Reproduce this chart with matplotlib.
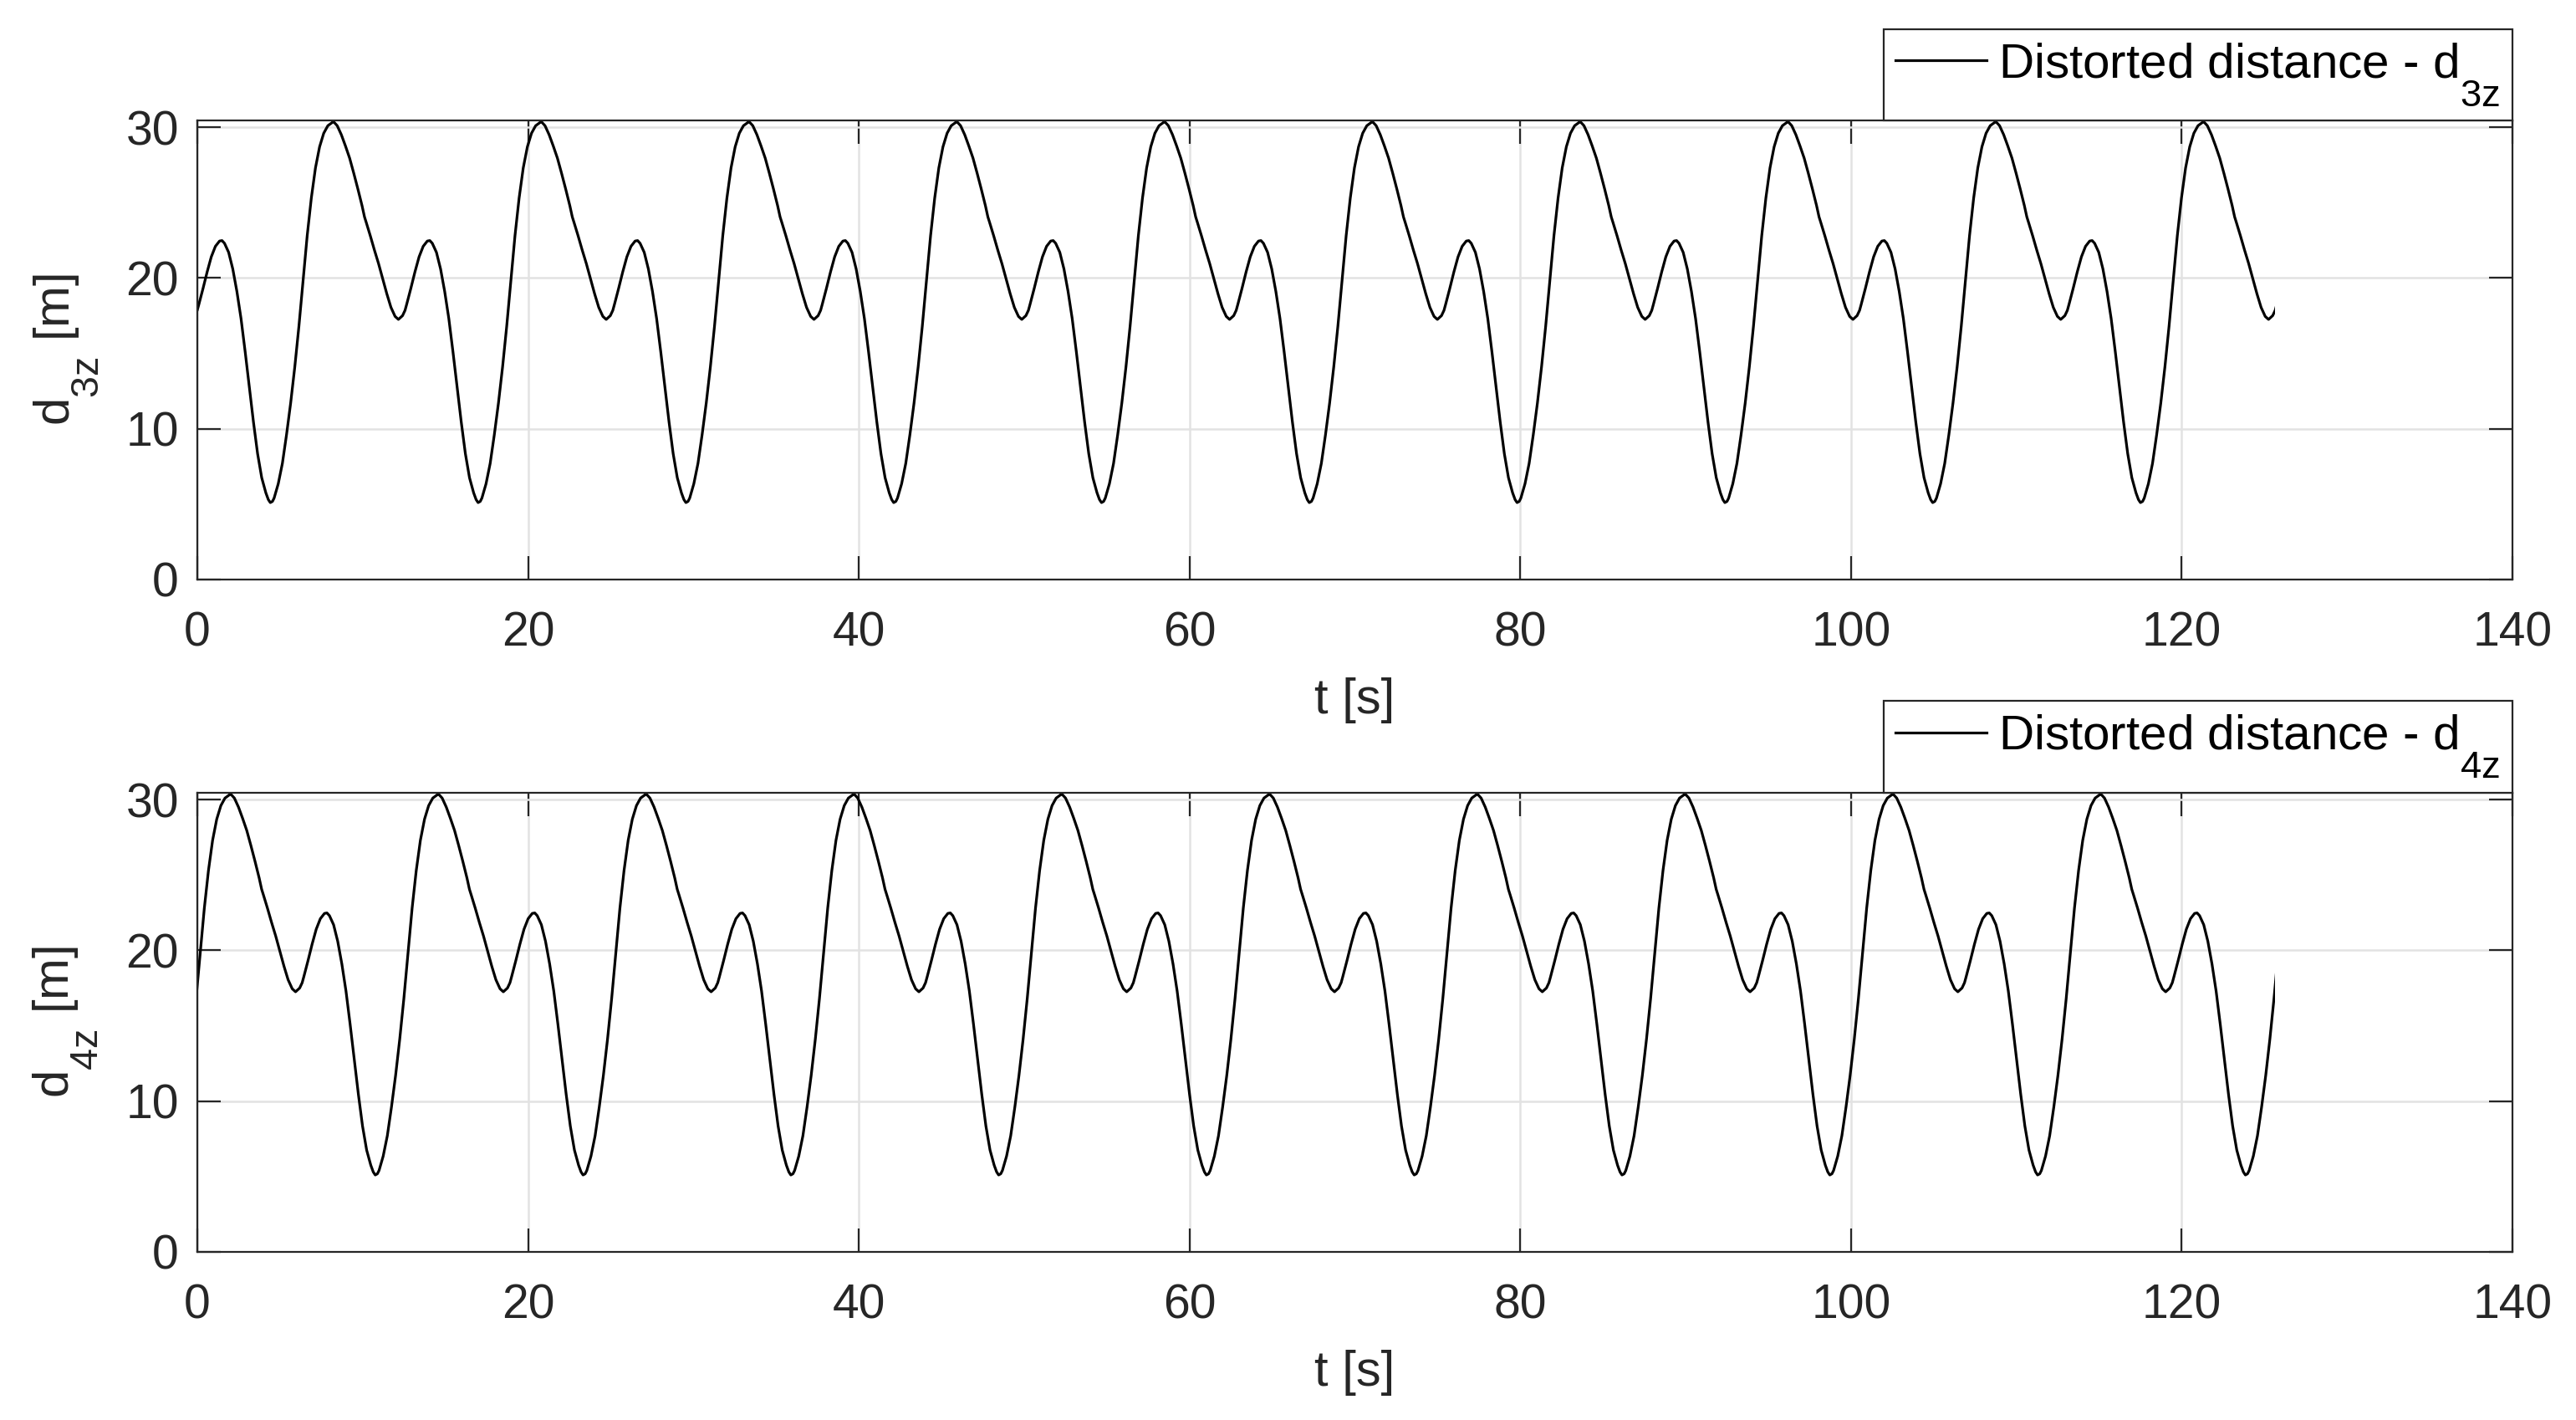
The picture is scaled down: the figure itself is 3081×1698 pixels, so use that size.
import numpy as np
import matplotlib
matplotlib.use("Agg")
import matplotlib.pyplot as plt
from matplotlib.patches import Rectangle

# one cycle of the distorted distance
# phase in s measured from a peak, distance in m
cycle_phase = [0.00, 0.25, 0.50, 0.75, 1.00, 1.25, 1.50, 1.75, 1.90, 2.00,
               2.25, 2.50, 2.75, 3.00, 3.25, 3.50, 3.75, 3.95, 4.20, 4.35,
               4.45, 4.70, 4.95, 5.20, 5.45, 5.70, 5.85, 6.00, 6.25, 6.50,
               6.75, 7.00, 7.25, 7.50, 7.75, 8.00, 8.25, 8.50, 8.65, 8.77,
               8.90, 9.00, 9.25, 9.50, 9.75, 10.00, 10.25, 10.50, 10.75, 11.00,
               11.25, 11.50, 11.75, 12.00, 12.25, 12.50]
cycle_dist = [30.40, 30.10, 29.50, 28.75, 27.95, 26.95, 25.90, 24.80, 24.05, 23.70,
              22.80, 21.85, 20.95, 19.95, 18.95, 18.05, 17.45, 17.25, 17.50, 17.85,
              18.25, 19.30, 20.40, 21.40, 22.10, 22.45, 22.48, 22.30, 21.70, 20.60,
              19.10, 17.30, 15.10, 12.75, 10.45, 8.35, 6.75, 5.75, 5.30, 5.10,
              5.18, 5.40, 6.35, 7.70, 9.60, 11.70, 14.10, 16.80, 19.80, 22.80,
              25.30, 27.30, 28.70, 29.60, 30.10, 30.30]

period = 12.566     # s, peak to peak
t_stop = 125.66     # s, end of record
first_peak_3z = 8.21
first_peak_4z = 1.99

x_ticks = [0, 20, 40, 60, 80, 100, 120, 140]
y_ticks = [0, 10, 20, 30]

plt.rcParams['font.family'] = ['Liberation Sans', 'DejaVu Sans']
plt.rcParams['mathtext.fontset'] = 'custom'
plt.rcParams['mathtext.rm'] = 'Liberation Sans'
plt.rcParams['mathtext.it'] = 'Liberation Sans'

# MATLAB subscripts are bigger and sit lower than mathtext's defaults
try:
    from matplotlib import _mathtext
    _mathtext.FontConstantsBase.sub1 = 1.15
    _mathtext.SHRINK_FACTOR = 0.78
except (ImportError, AttributeError):
    pass

DARK = '#262626'


def build_series(first_peak):
    starts = first_peak + period * np.arange(-1, 10)
    t = np.concatenate([s + np.asarray(cycle_phase) for s in starts])
    d = np.tile(cycle_dist, len(starts))
    return t, d


def draw_panel(ax, first_peak, sub):
    t, d = build_series(first_peak)
    line, = ax.plot(t, d, color='black', lw=1.15,
                    label='Distorted distance - d$_\\mathregular{%s}$' % sub)
    # the record runs from 0 to t_stop only
    line.set_clip_path(Rectangle((0, -5), t_stop, 50, transform=ax.transData))

    ax.set_xlim(0, 140)
    ax.set_ylim(0, 30.45)
    ax.set_xticks(x_ticks)
    ax.set_yticks(y_ticks)
    ax.grid(True, color='#e2e2e2', lw=0.9)
    ax.set_axisbelow(True)
    ax.tick_params(direction='in', length=10, width=0.8, colors=DARK,
                   labelsize=20.5, top=True, right=True)
    ax.tick_params(axis='x', pad=13.5)
    ax.tick_params(axis='y', pad=8)
    for sp in ax.spines.values():
        sp.set_color(DARK)
        sp.set_linewidth(0.8)

    ax.set_xlabel('t [s]', fontsize=21.5, color=DARK)
    ax.set_ylabel('d$_\\mathregular{%s}$ [m]' % sub, fontsize=21.5, color=DARK)
    ax.xaxis.set_label_coords(0.5, -0.213)
    ax.yaxis.set_label_coords(-0.042, 0.5)

    leg = ax.legend(loc='lower right', bbox_to_anchor=(1.0, 1.0), borderaxespad=0,
                    fontsize=21, fancybox=False, framealpha=1, handlelength=1.87,
                    handletextpad=0.24, borderpad=0.25)
    leg.get_frame().set_edgecolor(DARK)
    leg.get_frame().set_linewidth(0.8)


fig = plt.figure(figsize=(15.405, 8.49), dpi=200)
ax1 = fig.add_axes([0.0766, 0.5919, 0.8987, 0.3233])
ax2 = fig.add_axes([0.0766, 0.1184, 0.8987, 0.3233])

draw_panel(ax1, first_peak_3z, '3z')
draw_panel(ax2, first_peak_4z, '4z')

fig.savefig('out.png', dpi=200, facecolor='white')
